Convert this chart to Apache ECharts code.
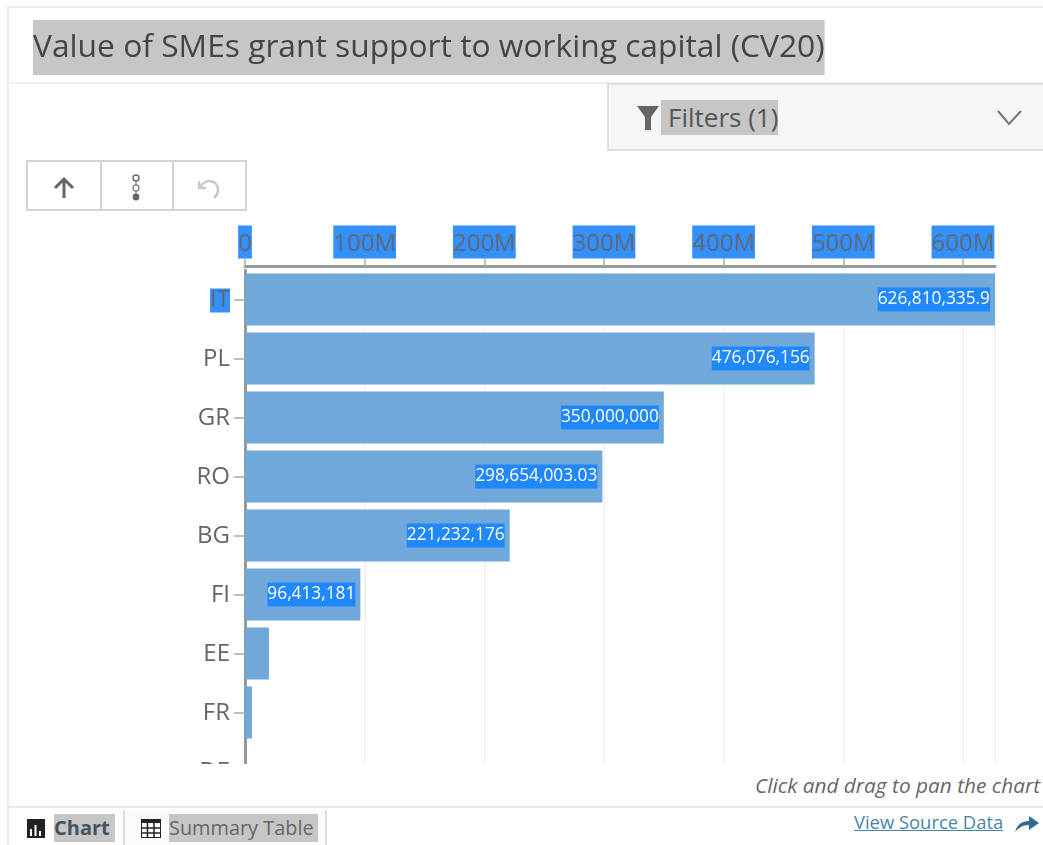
<!DOCTYPE html>
<html><head><meta charset="utf-8">
<script src="https://cdn.jsdelivr.net/npm/echarts@6/dist/echarts.min.js"></script>
<style>
html,body{margin:0;padding:0;background:#fff;width:1043px;height:845px;overflow:hidden;font-family:"Open Sans",sans-serif;color:#555}
#chart{position:absolute;left:0;top:0;width:1043px;height:845px}
.abs{position:absolute;box-sizing:border-box}
.hl{background:#c6c6c6}
</style></head><body>
<div id="chart"></div>
<div class="abs" style="left:0;top:764px;width:1043px;height:81px;background:#fff"></div>
<div class="abs" style="left:7px;top:6px;width:1036px;height:2px;background:#ececec"></div>
<div class="abs" style="left:7px;top:6px;width:2px;height:839px;background:#ececec"></div>
<div class="abs" style="left:10px;top:82px;width:1033px;height:2px;background:#ececec"></div>
<div class="abs" style="left:607px;top:83px;width:440px;height:68px;background:#f6f6f6;border:2px solid #e0e0e0"></div>
<svg class="abs" style="left:636px;top:105px" width="24" height="26"><path d="M1 1H23L15 12V25H9V12Z" fill="#666"/></svg>
<div class="abs hl" style="left:661px;top:100px;width:117px;height:35px;font-size:26px;line-height:35px;white-space:nowrap;padding-left:7px;color:#555">Filters (1)</div>
<svg class="abs" style="left:996px;top:108px" width="28" height="22"><path d="M2 3L13 16L25 3" fill="none" stroke="#777" stroke-width="2"/></svg>
<div class="abs" style="left:26px;top:160px;width:221px;height:51px;border:2px solid #d4d4d4"></div>
<div class="abs" style="left:100px;top:160px;width:2px;height:51px;background:#d4d4d4"></div>
<div class="abs" style="left:172px;top:160px;width:2px;height:51px;background:#d4d4d4"></div>
<svg class="abs" style="left:52px;top:176px" width="24" height="24"><path d="M12 22V3M3 12L12 3L21 12" fill="none" stroke="#666" stroke-width="3"/></svg>
<svg class="abs" style="left:128px;top:174px" width="16" height="28"><circle cx="8" cy="4" r="3" fill="#fff" stroke="#666" stroke-width="1.4"/><circle cx="8" cy="14" r="3" fill="#fff" stroke="#888" stroke-width="1.4"/><circle cx="8" cy="23" r="3.4" fill="#666"/><path d="M8 7V11M8 17V20" stroke="#666"/></svg>
<svg class="abs" style="left:196px;top:175px" width="26" height="26"><path d="M3 6V13H10M3 13C8 6 14 4 19 8C24 13 22 20 18 23" fill="none" stroke="#c8c8c8" stroke-width="2.4"/></svg>
<div class="abs" style="right:3px;top:771px;font-size:20.800px;line-height:28px;font-style:italic;color:#666;white-space:nowrap">Click and drag to pan the chart</div>
<div class="abs" style="left:9px;top:806px;width:1034px;height:2px;background:#e8e8e8"></div>
<div class="abs" style="left:123px;top:810px;width:204px;height:35px;border-left:2px solid #ddd;border-right:2px solid #ddd;background:#fbfbfb"></div>
<svg class="abs" style="left:26px;top:818px" width="20" height="21"><rect x="1" y="1" width="18" height="19" fill="#222"/><path d="M5 18V11M9.500 18V7M14 18V13" stroke="#fff" stroke-width="2"/></svg>
<div class="abs hl" style="left:54px;top:814px;width:61px;height:28px;font-size:20px;line-height:28px;font-weight:700;color:#44525f;white-space:nowrap">Chart</div>
<svg class="abs" style="left:141px;top:819px" width="20" height="19"><rect x="0.500" y="0.500" width="19" height="18" fill="#fff" stroke="#222"/><rect x="0" y="0" width="20" height="4" fill="#222"/><path d="M0 9H20M0 14H20M6.500 4V19M13 4V19" stroke="#222" stroke-width="1.500"/></svg>
<div class="abs hl" style="left:169px;top:814px;width:149px;height:28px;font-size:19.900px;line-height:28px;color:#666;white-space:nowrap">Summary Table</div>
<div class="abs" style="left:854px;top:809px;font-size:18.400px;line-height:26px;color:#4a86a6;text-decoration:underline;white-space:nowrap">View Source Data</div>
<svg class="abs" style="left:1014px;top:813px" width="26" height="22"><path d="M1 19C3 11 9 8 15 8V3L25 10L15 17V12C10 12 5 14 1 19Z" fill="#2f6a8f"/></svg>
<script>
const chartTitle = 'Value of SMEs grant support to working capital (CV20)';
const categories = ['IT','PL','GR','RO','BG','FI','EE','FR','DE'];
const values = [626810335.9,476076156,350000000,298654003.03,221232176,96413181,20000000,5800000,300000];
const labelled = [true,true,true,true,true,true,false,false,false];
const tickInterval = 100000000;

const chart = echarts.init(document.getElementById('chart'), null, {renderer:'canvas'});
const textColor = '#5f666e';
chart.setOption({
  animation:false,
  backgroundColor:'transparent',
  title:{text:chartTitle,left:33,top:20,padding:0,backgroundColor:'#c6c6c6',
    textStyle:{fontFamily:'Open Sans',fontSize:31.75,fontWeight:'normal',color:'#444',lineHeight:55}},
  grid:{left:245,top:270,width:750,height:531,containLabel:false},
  xAxis:{type:'value',position:'top',offset:3.5,min:0,max:values[0],interval:tickInterval,
    axisLine:{show:true,lineStyle:{color:'#999',width:3}},
    axisTick:{show:true,length:8,lineStyle:{color:'#aaa',width:1.5}},
    splitLine:{show:true,lineStyle:{color:'#f0f0f0',width:1.5}},
    axisLabel:{show:true,showMaxLabel:false,margin:8,fontFamily:'Open Sans',fontSize:24,lineHeight:29,padding:[4,0,0,0],color:textColor,backgroundColor:'#3390ff',
      formatter:v=>v===0?'0':(v/1000000)+'M'}},
  yAxis:{type:'category',inverse:true,data:categories,
    axisLine:{show:true,lineStyle:{color:'#999',width:3}},
    axisTick:{show:true,alignWithLabel:true,length:11,lineStyle:{color:'#aaa',width:1.5}},
    axisLabel:{margin:15,padding:[2,0,0,0],fontFamily:'Open Sans',fontSize:24,color:'#666',
      formatter:v=>v==='IT'?'{hl|'+v+'}':v,
      rich:{hl:{fontFamily:'Open Sans',fontSize:24,lineHeight:33,color:textColor,backgroundColor:'#3390ff'}}}},
  series:[{type:'bar',barWidth:52,itemStyle:{color:'#6fa8d9'},
    data:values.map((v,i)=>({value:v,label:{show:labelled[i]}})),
    label:{position:'insideRight',distance:5,fontFamily:'Open Sans',fontSize:17.3,lineHeight:20,padding:[4,0,0,0],color:'#fff',backgroundColor:'#2088ff',
      formatter:p=>p.value.toLocaleString('en-US',{maximumFractionDigits:2})}}]
});
</script>
</body></html>
